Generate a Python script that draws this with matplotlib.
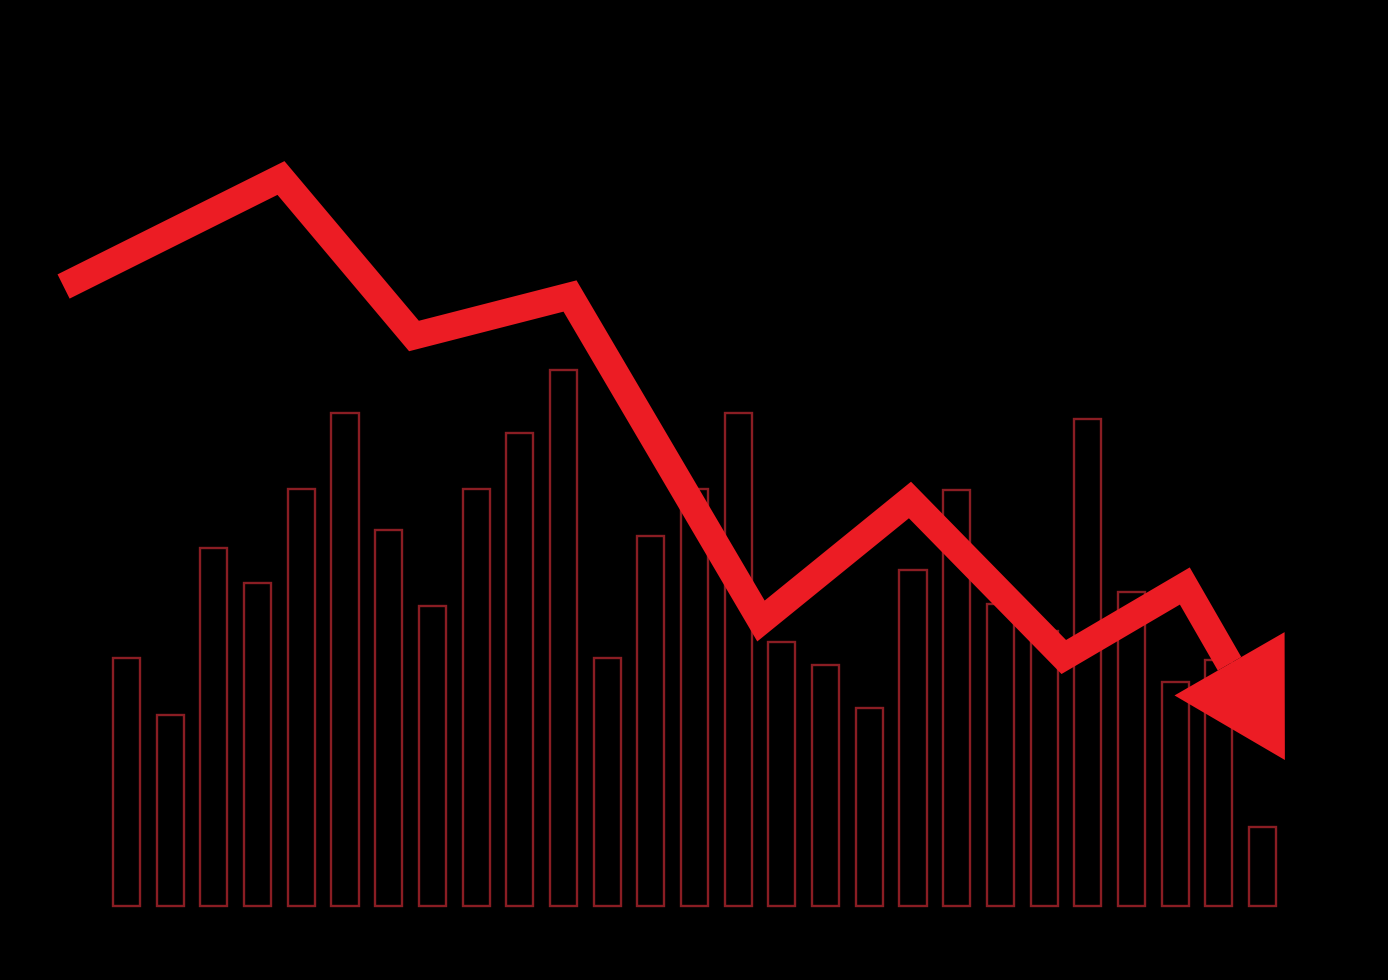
import numpy as np
import matplotlib
matplotlib.use("Agg")
import matplotlib.pyplot as plt
from matplotlib.patches import Polygon

BG = "#000000"
BAR_EDGE = "#8a1d23"
RED = "#ec1c24"

# bar heights (arbitrary units)
bar_heights = [49.6, 38.2, 71.6, 64.6, 83.4, 98.6, 75.2, 60.0, 83.4, 94.6,
               107.2, 49.6, 74.0, 83.4, 98.6, 52.8, 48.2, 39.6, 67.2, 83.2,
               60.4, 55.0, 97.4, 62.8, 44.8, 49.2, 15.8]
bar_pos = np.arange(len(bar_heights))

# trend line (same units as the bars), last point is the arrow tip
line_x = [-1.44, 3.535, 6.579, 10.15, 14.52, 17.93, 21.45, 24.22, 26.51]
line_y = [123.9, 145.6, 114.0, 122.0, 57.0, 81.2, 49.8, 64.0, 29.2]

HEAD_LEN = 111   # px
HEAD_HALF = 63.5  # px

fig = plt.figure(figsize=(13.88, 9.8), dpi=100, facecolor=BG)
ax = fig.add_axes([0, 0, 1, 1])
ax.set_facecolor(BG)
ax.set_xlim(-2.895, 28.87)
ax.set_ylim(-14.8, 181.2)
ax.axis("off")

ax.bar(bar_pos, bar_heights, width=0.62, fill=False,
       edgecolor=BAR_EDGE, linewidth=1.7, zorder=1)

# arrow head worked out in pixel space so it is not squashed by the aspect
tr = ax.transData
tip = tr.transform((line_x[-1], line_y[-1]))
prev = tr.transform((line_x[-2], line_y[-2]))
u = (tip - prev) / np.hypot(*(tip - prev))
perp = np.array([-u[1], u[0]])
base = tip - u * HEAD_LEN
tri = np.array([base + perp * HEAD_HALF, base - perp * HEAD_HALF, tip])
tri_data = tr.inverted().transform(tri)
base_data = tr.inverted().transform(base)

xs = line_x[:-1] + [base_data[0]]
ys = line_y[:-1] + [base_data[1]]
ax.plot(xs, ys, color=RED, lw=19.5, solid_joinstyle="miter",
        solid_capstyle="butt", zorder=3)
ax.add_patch(Polygon(tri_data, closed=True, facecolor=RED,
                     edgecolor="none", zorder=4))

fig.savefig("out.png", dpi=100, facecolor=BG)
